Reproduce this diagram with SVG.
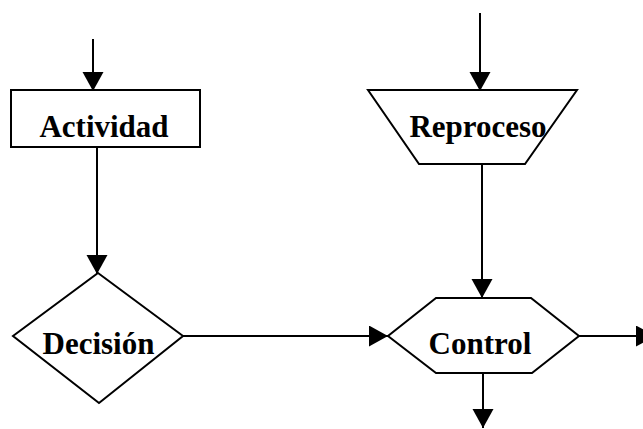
<svg xmlns="http://www.w3.org/2000/svg" width="643" height="429" viewBox="0 0 643 429">
  <style>
    .shape { fill: #ffffff; stroke: #000000; stroke-width: 2; stroke-linejoin: miter; }
    .label { font-family: "Liberation Serif", "Times New Roman", serif; font-weight: bold; font-size: 31px; fill: #000000; text-anchor: middle; }
    .edge { fill: none; stroke: #000000; stroke-width: 2; marker-end: url(#arrow); }
  </style>
  <defs>
    <marker id="arrow" markerUnits="userSpaceOnUse" markerWidth="20" markerHeight="22" refX="19" refY="10.5" orient="auto">
      <path d="M0,0 L19,10.5 L0,21 z" fill="#000000"/>
    </marker>
  </defs>
  <rect width="643" height="429" fill="#ffffff"/>

  <!-- connectors -->
  <g id="connectors">
    <line class="edge" x1="93" y1="39" x2="93" y2="91"/>
    <line class="edge" x1="97" y1="147" x2="97" y2="274"/>
    <line class="edge" x1="480" y1="13" x2="480" y2="91"/>
    <line class="edge" x1="482" y1="164" x2="482" y2="298"/>
    <line class="edge" x1="183" y1="336" x2="388" y2="336"/>
    <line class="edge" x1="579" y1="336" x2="655" y2="336"/>
    <line class="edge" x1="483" y1="373" x2="483" y2="428"/>
  </g>

  <!-- Actividad: process box -->
  <g id="actividad">
    <rect class="shape" x="11" y="90" width="189" height="57"/>
    <text class="label" x="104" y="137">Actividad</text>
  </g>

  <!-- Reproceso: inverted trapezoid -->
  <g id="reproceso">
    <polygon class="shape" points="368,90 577,90 525,164 419,164"/>
    <text class="label" x="478" y="137">Reproceso</text>
  </g>

  <!-- Decisión: diamond -->
  <g id="decision">
    <polygon class="shape" points="98,273 183,336 99,403 13,336"/>
    <text class="label" x="98.5" y="354">Decisión</text>
  </g>

  <!-- Control: hexagon -->
  <g id="control">
    <polygon class="shape" points="436,298 531,298 579,336 532,373 436,373 388,336"/>
    <text class="label" x="480" y="354">Control</text>
  </g>
</svg>
